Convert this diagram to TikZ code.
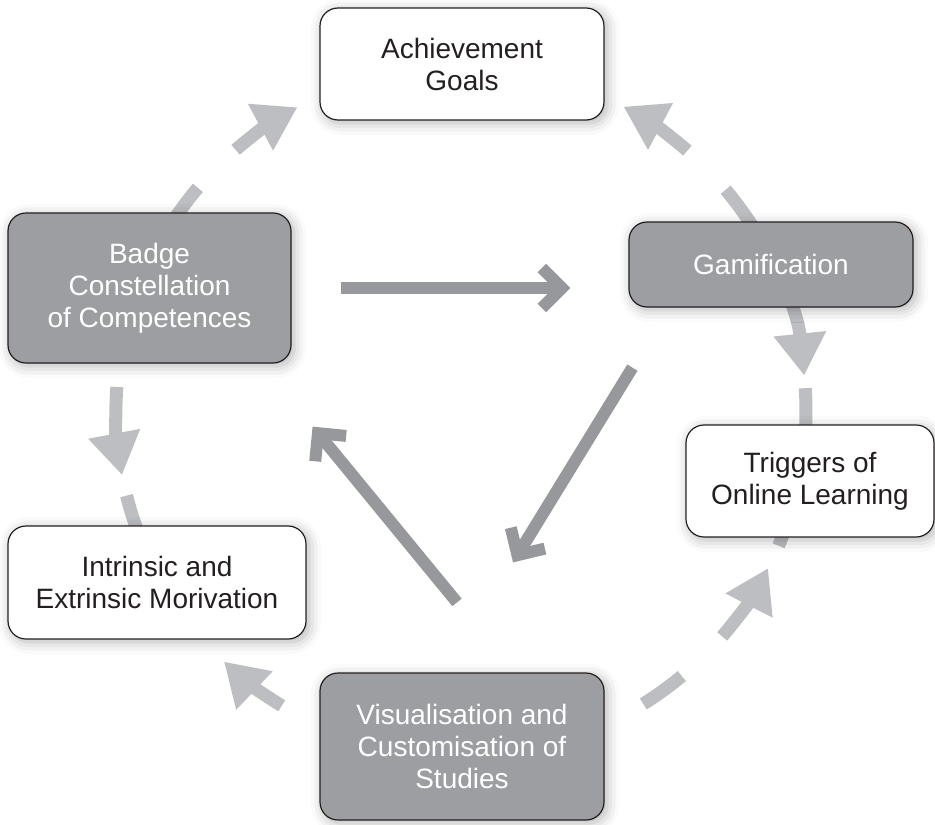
\documentclass[tikz,border=0pt]{standalone}
\usepackage{fontspec}
\setmainfont{Liberation Sans}
\usetikzlibrary{arrows.meta,calc,shadows.blur}
\definecolor{boxgray}{HTML}{9D9EA2}
\definecolor{arrowgray}{HTML}{97989B}
\definecolor{ringgray}{HTML}{BDBEC1}
\definecolor{edgeblack}{HTML}{231F20}
\pgfdeclarelayer{back}
\pgfsetlayers{back,main}

\begin{document}
\begin{tikzpicture}[
    x=0.5pt, y=-0.5pt,
    font=\fontsize{14}{16}\selectfont,
    box/.style={rounded corners=9pt, draw=edgeblack, line width=0.6pt, align=center,
      blur shadow={shadow xshift=1.5pt, shadow yshift=-1.5pt, shadow blur radius=6pt, shadow opacity=30}},
    whitebox/.style={box, fill=white, text=edgeblack},
    graybox/.style={box, fill=boxgray, text=white},
    flow/.style={draw=arrowgray, line width=6pt, -{Straight Barb[length=10pt, width=20pt]}},
    ring/.style={draw=ringgray, line width=6.5pt},
    ringtip/.style={ring, -{Triangle[length=21pt, width=25pt]}},
  ]
  \useasboundingbox (0,0) rectangle (935,824);

  % boxes
  \node[whitebox, minimum width=142pt, minimum height=56pt] (goals) at (462,64) {Achievement\\Goals};
  \node[graybox, minimum width=142pt, minimum height=42.5pt] (gamif) at (771,264.5) {Gamification};
  \node[graybox, minimum width=141.5pt, minimum height=75pt] (badge) at (149.5,288) {Badge\\Constellation\\of Competences};
  \node[whitebox, minimum width=124pt, minimum height=56pt] (triggers) at (810,481) {Triggers of\\Online Learning};
  \node[whitebox, minimum width=149pt, minimum height=56.5pt] (motive) at (157,582.5) {Intrinsic and\\Extrinsic Morivation};
  \node[graybox, minimum width=142pt, minimum height=73.5pt] (visual) at (462,746.5) {Visualisation and\\Customisation of\\Studies};

  % inner arrows
  \draw[flow, shorten <=24.5pt, shorten >=29pt] (badge.east) -- (badge.east -| gamif.west);
  \draw[flow] ($(gamif.south west)+(4,60)$) -- ($(visual.north)+(51,-110)$);
  \draw[flow] ($(visual.north)+(-5,-70)$) -- ($(badge.south east)+(21,63)$);

  % outer ring, behind the boxes
  \begin{pgfonlayer}{back}
    \coordinate (hub) at (461,411);
    \draw[ring] ($(hub)+(200:345)$) arc[start angle=200, end angle=220.3, radius=345];
    \draw[ringtip] ($(hub)+(229.2:345)$) arc[start angle=229.2, end angle=241.7, radius=345];
    \draw[ringtip] ($(hub)+(311:345)$) arc[start angle=311, end angle=298.1, radius=345];
    \draw[ringtip] ($(hub)+(-39.9:345)$) arc[start angle=-39.9, end angle=-5.9, radius=345];
    \draw[ring] ($(hub)+(-3.8:345)$) arc[start angle=-3.8, end angle=23, radius=345];
    \draw[ringtip] ($(hub)+(40.8:345)$) arc[start angle=40.8, end angle=27.1, radius=345];
    \draw[ring] ($(hub)+(50.2:345)$) arc[start angle=50.2, end angle=58.1, radius=345];
    \draw[ringtip] ($(hub)+(121.3:345)$) arc[start angle=121.3, end angle=133.4, radius=345];
    \draw[ring] ($(hub)+(145:345)$) arc[start angle=145, end angle=165.8, radius=345];
    \draw[ringtip] ($(hub)+(184:345)$) arc[start angle=184, end angle=169.3, radius=345];
  \end{pgfonlayer}
\end{tikzpicture}
\end{document}
